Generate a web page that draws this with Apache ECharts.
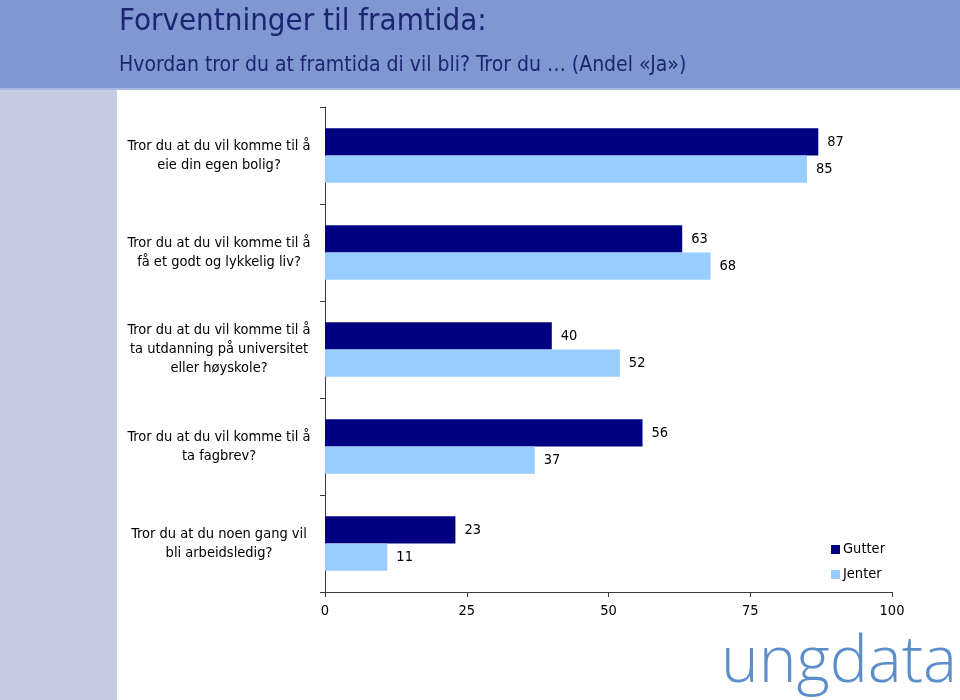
<!DOCTYPE html>
<html>
<head>
<meta charset="utf-8">
<script src="https://cdn.jsdelivr.net/npm/echarts@6/dist/echarts.min.js"></script>
<style>
html,body{margin:0;padding:0;background:#fff;}
#chart{width:960px;height:700px;}
</style>
</head>
<body>
<div id="chart"></div>
<script>
const categories = [
  "Tror du at du vil komme til å\neie din egen bolig?",
  "Tror du at du vil komme til å\nfå et godt og lykkelig liv?",
  "Tror du at du vil komme til å\nta utdanning på universitet\neller høyskole?",
  "Tror du at du vil komme til å\nta fagbrev?",
  "Tror du at du noen gang vil\nbli arbeidsledig?"
];
const gutter = [87, 63, 40, 56, 23];
const jenter = [85, 68, 52, 37, 11];
const xTicks = [0, 25, 50, 75, 100];
const seriesNames = ["Gutter", "Jenter"];
const titleText = "Forventninger til framtida:";
const subtitleText = "Hvordan tror du at framtida di vil bli? Tror du … (Andel «Ja»)";

const FONT = "'DejaVu Sans Condensed', 'Liberation Sans', sans-serif";
const chart = echarts.init(document.getElementById('chart'), null, {renderer: 'canvas'});
const option = {
  animation: false,
  backgroundColor: '#ffffff',
  textStyle: {fontFamily: FONT},
  graphic: [
    {type: 'rect', left: 0, top: 0, shape: {width: 960, height: 89}, style: {fill: '#8097d1'}, z: -10},
    {type: 'rect', left: 0, top: 88, shape: {width: 960, height: 2}, style: {fill: '#a9b8e2'}, z: -9},
    {type: 'rect', left: 0, top: 90, shape: {width: 117, height: 610}, style: {fill: '#c3cce0'}, z: -10},
    {type: 'text', left: 119, top: 6, style: {text: titleText, fill: '#1c2572', font: "31px " + FONT}},
    {type: 'text', left: 119, top: 55, style: {text: subtitleText, fill: '#1c2572', font: "21px " + FONT}},
    {type: 'text', right: 3, top: 632, style: {text: 'ungdata', fill: '#5b8ecb', font: "300 64px 'Open Sans', 'Lato', sans-serif"}}
  ],
  legend: {
    show: true,
    orient: 'vertical',
    left: 826,
    top: 537,
    itemWidth: 9,
    itemHeight: 9,
    itemGap: 10,
    icon: 'rect',
    textStyle: {fontSize: 14.5, color: '#000', fontFamily: FONT, padding: [0, 0, 0, -2]},
    data: seriesNames
  },
  grid: {left: 325, right: 68, top: 107, bottom: 108, containLabel: false},
  xAxis: {
    type: 'value',
    min: 0, max: 100, interval: 25,
    axisLine: {show: true, lineStyle: {color: '#3a3a3a', width: 1}},
    axisTick: {show: true, length: 5, lineStyle: {color: '#3a3a3a'}},
    splitLine: {show: false},
    axisLabel: {fontSize: 14.5, color: '#000', margin: 12, fontFamily: FONT,
      customValues: xTicks}
  },
  yAxis: {
    type: 'category',
    inverse: true,
    data: categories,
    axisLine: {show: true, lineStyle: {color: '#3a3a3a', width: 1}},
    axisTick: {show: true, length: 5, lineStyle: {color: '#3a3a3a'}},
    axisLabel: {fontSize: 14.5, color: '#000', align: 'center', margin: 106, lineHeight: 19, fontFamily: FONT}
  },
  series: [
    {
      name: seriesNames[0], type: 'bar', data: gutter, barGap: '0%', barCategoryGap: '44%',
      itemStyle: {color: '#000080'},
      label: {show: true, position: 'right', distance: 9, fontSize: 14.5, color: '#000', fontFamily: FONT}
    },
    {
      name: seriesNames[1], type: 'bar', data: jenter, barGap: '0%', barCategoryGap: '44%',
      itemStyle: {color: '#99ccff'},
      label: {show: true, position: 'right', distance: 9, fontSize: 14.5, color: '#000', fontFamily: FONT}
    }
  ]
};
chart.setOption(option);
</script>
</body>
</html>
